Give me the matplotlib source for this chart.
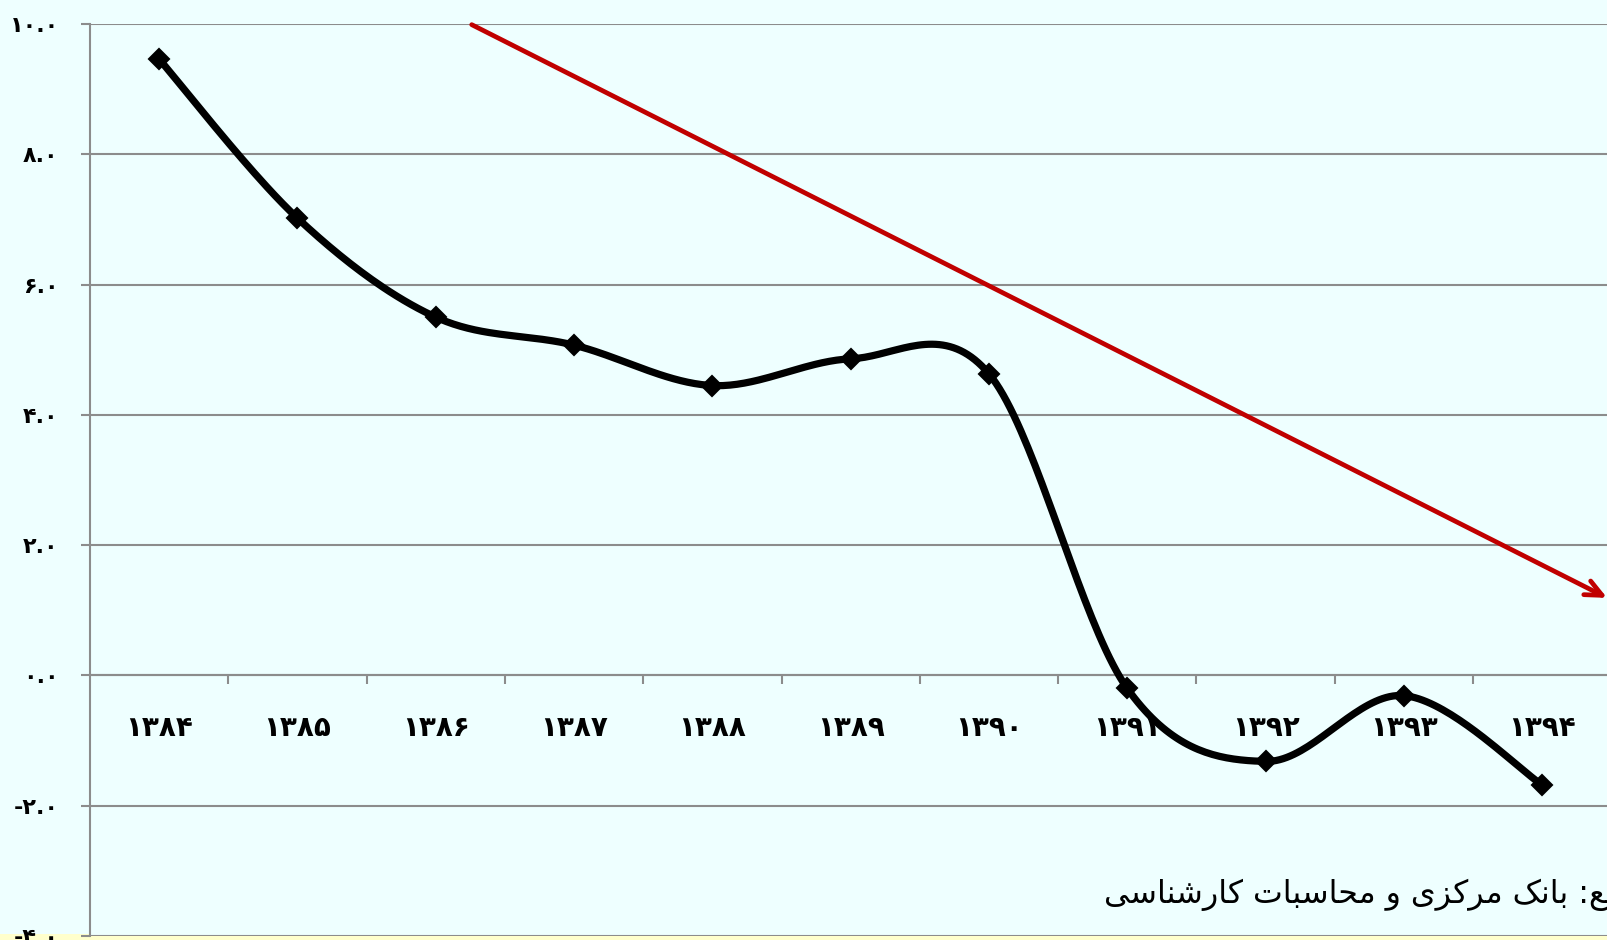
import numpy as np
import matplotlib
matplotlib.use('Agg')
import matplotlib.pyplot as plt
from matplotlib.patches import Rectangle

years = ['1384', '1385', '1386', '1387', '1388', '1389', '1390', '1391', '1392', '1393', '1394']
values = [9.46, 7.02, 5.50, 5.07, 4.45, 4.86, 4.63, -0.20, -1.32, -0.31, -1.68]
y_ticks = [-4, -2, 0, 2, 4, 6, 8, 10]
trend_start = (2.26, 9.99)
trend_end = (10.47, 1.19)
source_text = 'منبع: بانک مرکزی و محاسبات کارشناسی'

BG = '#EEFFFF'
GRID = '#8C8C8C'
FA = str.maketrans('0123456789', '۰۱۲۳۴۵۶۷۸۹')


def smooth(xs, ys, n=40):
    # excel style smoothed line: catmull-rom via bezier
    px = np.concatenate([[xs[0]], xs, [xs[-1]]])
    py = np.concatenate([[ys[0]], ys, [ys[-1]]])
    t = np.linspace(0, 1, n)
    ox, oy = [], []
    for i in range(1, len(px) - 2):
        p0 = np.array([px[i], py[i]])
        p3 = np.array([px[i + 1], py[i + 1]])
        c1 = p0 + (np.array([px[i + 1], py[i + 1]]) - np.array([px[i - 1], py[i - 1]])) / 6
        c2 = p3 - (np.array([px[i + 2], py[i + 2]]) - np.array([px[i], py[i]])) / 6
        b = ((1 - t) ** 3)[:, None] * p0 + (3 * (1 - t) ** 2 * t)[:, None] * c1 \
            + (3 * (1 - t) * t ** 2)[:, None] * c2 + (t ** 3)[:, None] * p3
        ox.extend(b[:, 0])
        oy.extend(b[:, 1])
    return np.array(ox), np.array(oy)


# simple persian shaping (no reshaper lib available)
FORMS = {
    'ا': ('\uFE8D', '\uFE8E', None, None),
    'ب': ('\uFE8F', '\uFE90', '\uFE91', '\uFE92'),
    'ت': ('\uFE95', '\uFE96', '\uFE97', '\uFE98'),
    'ح': ('\uFEA1', '\uFEA2', '\uFEA3', '\uFEA4'),
    'ر': ('\uFEAD', '\uFEAE', None, None),
    'ز': ('\uFEAF', '\uFEB0', None, None),
    'س': ('\uFEB1', '\uFEB2', '\uFEB3', '\uFEB4'),
    'ش': ('\uFEB5', '\uFEB6', '\uFEB7', '\uFEB8'),
    'ع': ('\uFEC9', '\uFECA', '\uFECB', '\uFECC'),
    'م': ('\uFEE1', '\uFEE2', '\uFEE3', '\uFEE4'),
    'ن': ('\uFEE5', '\uFEE6', '\uFEE7', '\uFEE8'),
    'و': ('\uFEED', '\uFEEE', None, None),
    'ک': ('\uFB8E', '\uFB8F', '\uFB90', '\uFB91'),
    'ی': ('\uFBFC', '\uFBFD', '\uFBFE', '\uFBFF'),
}


def shape(s):
    out = []
    for i, c in enumerate(s):
        if c not in FORMS:
            out.append(c)
            continue
        iso, fin, ini, med = FORMS[c]
        prev = s[i - 1] if i > 0 else ''
        nxt = s[i + 1] if i + 1 < len(s) else ''
        pj = prev in FORMS and FORMS[prev][2] is not None
        nj = ini is not None and nxt in FORMS
        if pj and nj:
            out.append(med)
        elif pj:
            out.append(fin)
        elif nj:
            out.append(ini)
        else:
            out.append(iso)
    return ''.join(out)[::-1]


fig = plt.figure(figsize=(16.08, 9.40), dpi=100, facecolor=BG)
ax = fig.add_axes([90 / 1608, 4 / 940, 11 * 138.3 / 1608, 912 / 940])
ax.set_facecolor(BG)

x = np.arange(len(years))
sx, sy = smooth(x, np.array(values))
ax.plot(sx, sy, color='black', lw=5.2, solid_capstyle='round', solid_joinstyle='round', zorder=3)
ax.plot(x, values, ls='none', marker='D', ms=10, color='black', mew=1.5,
        markeredgecolor='black', zorder=4)

ax.annotate('', xy=trend_end, xytext=trend_start, annotation_clip=False,
            arrowprops=dict(arrowstyle='->,head_length=1.2,head_width=0.55', color='#C00000',
                            lw=3.4, shrinkA=0, shrinkB=0), zorder=5)

ax.set_xlim(-0.5, len(years) - 0.5)
ax.set_ylim(-4, 10)
ax.set_yticks(y_ticks)
ax.set_yticklabels([('%.1f' % v).translate(FA) for v in y_ticks],
                   fontsize=16, fontweight='bold', family='DejaVu Sans')
ax.grid(axis='y', color=GRID, lw=1.5)
ax.set_axisbelow(True)

for s in ['top', 'right']:
    ax.spines[s].set_visible(False)
ax.spines['left'].set_color(GRID)
ax.spines['left'].set_linewidth(1.5)
ax.spines['bottom'].set_position(('data', 0))
ax.spines['bottom'].set_color(GRID)
ax.spines['bottom'].set_linewidth(1.5)

ax.set_xticks(np.arange(0.5, len(years) - 0.5, 1))
ax.set_xticklabels([])
ax.set_xticks(x, minor=True)
ax.set_xticklabels([y.translate(FA) for y in years], minor=True,
                   fontsize=20, fontweight='bold', family='DejaVu Sans')
ax.tick_params(axis='x', which='major', direction='out', length=6.5, width=1.5, color=GRID)
ax.tick_params(axis='x', which='minor', length=0, pad=28)
ax.tick_params(axis='y', direction='out', length=6.5, width=1.5, color=GRID, pad=16)

# source note runs off the right edge like the original slide
fig.text(1104 / 1608, 1 - 903 / 940, shape(source_text), fontsize=22.8,
         family='DejaVu Sans', ha='left', va='baseline')

fig.patches.append(Rectangle((0, 0), 1, 6 / 940, transform=fig.transFigure,
                             facecolor='#FFFFCC', edgecolor='none', zorder=-1))

fig.savefig('out.png', dpi=100, facecolor=BG)
